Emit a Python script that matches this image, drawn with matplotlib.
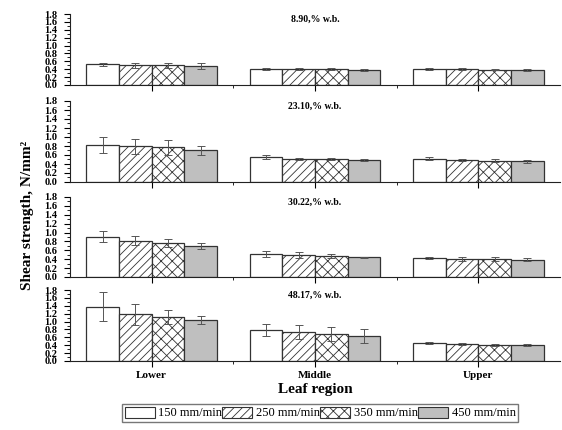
import matplotlib
matplotlib.use("Agg")
import matplotlib.pyplot as plt
import numpy as np
from matplotlib.patches import Patch
from matplotlib.ticker import MultipleLocator, FormatStrFormatter

plt.rcParams["font.family"] = "Liberation Serif"
plt.rcParams["hatch.linewidth"] = 0.6

regions = ["Lower", "Middle", "Upper"]
speeds = ["150 mm/min", "250 mm/min", "350 mm/min", "450 mm/min"]
moisture = ["8.90,% w.b.", "23.10,% w.b.", "30.22,% w.b.", "48.17,% w.b."]

# mean shear strength [panel][speed][region]
means = [
    [[0.52, 0.41, 0.40], [0.50, 0.40, 0.40], [0.50, 0.40, 0.39], [0.48, 0.38, 0.38]],
    [[0.83, 0.55, 0.52], [0.79, 0.51, 0.49], [0.77, 0.51, 0.47], [0.70, 0.48, 0.46]],
    [[0.91, 0.52, 0.43], [0.82, 0.49, 0.41], [0.76, 0.47, 0.40], [0.69, 0.44, 0.39]],
    [[1.38, 0.78, 0.46], [1.18, 0.74, 0.43], [1.12, 0.68, 0.41], [1.03, 0.63, 0.40]],
]
errors = [
    [[0.05, 0.02, 0.02], [0.07, 0.02, 0.02], [0.06, 0.02, 0.02], [0.08, 0.02, 0.02]],
    [[0.18, 0.04, 0.04], [0.16, 0.03, 0.02], [0.17, 0.03, 0.03], [0.10, 0.02, 0.03]],
    [[0.12, 0.07, 0.02], [0.11, 0.07, 0.04], [0.09, 0.05, 0.04], [0.07, 0.02, 0.03]],
    [[0.37, 0.15, 0.03], [0.26, 0.17, 0.03], [0.18, 0.18, 0.02], [0.10, 0.18, 0.03]],
]

faces = ["white", "white", "white", "#bfbfbf"]
hatches = [None, "////", "xxx", None]

# axes boxes in pixels: (top, bottom)
panel_px = [(14, 85), (101, 182), (197, 277), (290, 361)]
W, H = 562, 430
left, right = 70, 560

fig = plt.figure(figsize=(W / 100, H / 100), dpi=100)
x = np.arange(len(regions))
bw = 0.2

for p, (top, bot) in enumerate(panel_px):
    ax = fig.add_axes([left / W, 1 - bot / H, (right - left) / W, (bot - top) / H])
    for s in range(4):
        ax.bar(x + (s - 1.5) * bw, means[p][s], bw, yerr=errors[p][s],
               color=faces[s], hatch=hatches[s], edgecolor="#333333", linewidth=0.9,
               error_kw=dict(ecolor="#555555", elinewidth=0.7, capsize=3, capthick=0.7))
    ax.set_xlim(-0.5, 2.5)
    ax.set_ylim(0, 1.8)
    ax.yaxis.set_major_locator(MultipleLocator(0.2))
    ax.yaxis.set_minor_locator(MultipleLocator(0.1))
    ax.yaxis.set_major_formatter(FormatStrFormatter("%.1f"))
    ax.set_xticks(x)
    ax.set_xticks([0.5, 1.5], minor=True)
    ax.spines["top"].set_visible(False)
    ax.spines["right"].set_visible(False)
    ax.spines["left"].set_color("#222222")
    ax.spines["bottom"].set_color("#222222")
    ax.tick_params(axis="y", which="major", length=4, width=0.8, pad=5, labelsize=7.5)
    ax.tick_params(axis="y", which="minor", length=2, width=0.6)
    ax.tick_params(axis="x", which="major", length=4, width=0.8)
    ax.tick_params(axis="x", which="minor", length=2, width=0.6)
    for lab in ax.get_yticklabels():
        lab.set_fontweight("bold")
    if p == 3:
        ax.set_xticklabels(regions, fontweight="bold", fontsize=8)
        ax.set_xlabel("Leaf region", fontweight="bold", fontsize=11, labelpad=2)
    else:
        ax.set_xticklabels([])
    ax.text(1, 1.78, moisture[p], ha="center", va="top", fontsize=7,
            fontweight="bold")

fig.text(28 / W, 1 - 215 / H, "Shear strength, N/mm²", rotation=90,
         ha="center", va="center", fontsize=11, fontweight="bold")

handles = [Patch(facecolor=faces[i], edgecolor="#333333", hatch=hatches[i],
                 linewidth=0.8) for i in range(4)]
fig.legend(handles, speeds, loc="center", bbox_to_anchor=(320 / W, 1 - 413 / H),
           ncol=4, frameon=True, fancybox=False, edgecolor="#555555",
           fontsize=9, handlelength=2.4, handleheight=1.0, handletextpad=0.3,
           columnspacing=0.0, borderpad=0.2, borderaxespad=0)

fig.savefig("out.png", dpi=100)
